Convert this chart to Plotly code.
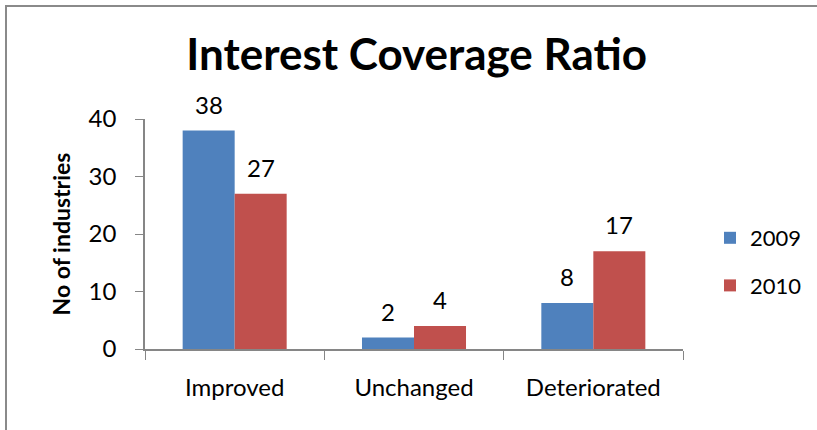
import plotly.graph_objects as go

categories = ["Improved", "Unchanged", "Deteriorated"]
series_names = ["2009", "2010"]
values_2009 = [38, 2, 8]
values_2010 = [27, 4, 17]
y_ticks = [0, 10, 20, 30, 40]

colors = ["#4F81BD", "#C0504D"]
FONT = "Lato, 'Open Sans', sans-serif"

W, H = 817, 430
L, R, T, B = 145, 134, 119, 81
pw, ph = W - L - R, H - T - B

def px_x(px):
    return (px - L) / pw

def px_y(py):
    return (H - B - py) / ph

fig = go.Figure()
annotations = []
offsets = [-26, 26]
for i, (name, vals) in enumerate(zip(series_names, [values_2009, values_2010])):
    fig.add_trace(go.Bar(
        x=categories, y=vals, name=name,
        marker=dict(color=colors[i], line=dict(width=0)),
        legendgroup=name,
    ))
    for c, v in zip(categories, vals):
        annotations.append(dict(x=c, y=v, xref="x", yref="y", text=str(v),
                                showarrow=False, xshift=offsets[i], yshift=10,
                                yanchor="bottom",
                                font=dict(size=24, family=FONT, color="black")))

fig.update_layout(
    width=W, height=H,
    margin=dict(l=L, r=R, t=T, b=B, autoexpand=False),
    paper_bgcolor="white", plot_bgcolor="white",
    barmode="group", bargap=0.42, bargroupgap=0,
    font=dict(family=FONT, color="black", size=24),
    title=dict(text="<b>Interest Coverage Ratio</b>", x=0.51, xanchor="center",
               y=1 - 55 / H, yanchor="middle",
               font=dict(size=44, family=FONT, color="black")),
    showlegend=True,
    legend=dict(x=px_x(710), y=px_y(262), xanchor="left", yanchor="middle",
                font=dict(size=22, family=FONT), traceorder="grouped",
                tracegroupgap=16, bgcolor="rgba(0,0,0,0)"),
    xaxis=dict(showline=True, linecolor="#868686", linewidth=1.5,
               ticks="outside", tickson="boundaries", ticklen=9, tickcolor="#868686",
               tickfont=dict(size=24, family=FONT), showgrid=False,
               ticklabelstandoff=16, automargin=False),
    yaxis=dict(range=[0, 40], tickvals=y_ticks, showline=True, linecolor="#868686",
               linewidth=1.5, ticks="outside", ticklen=8, tickcolor="#868686",
               tickfont=dict(size=24, family=FONT), showgrid=False, zeroline=False,
               ticklabelstandoff=14, automargin=False,
               title=dict(text="<b>No of industries</b>", font=dict(size=23, family=FONT),
                          standoff=12)),
    annotations=annotations,
    shapes=[dict(type="rect", xref="paper", yref="paper",
                 x0=px_x(6), x1=px_x(900), y0=px_y(500), y1=px_y(6),
                 line=dict(color="#8a8a8a", width=2), layer="below")],
)

fig.write_html("out.html")
